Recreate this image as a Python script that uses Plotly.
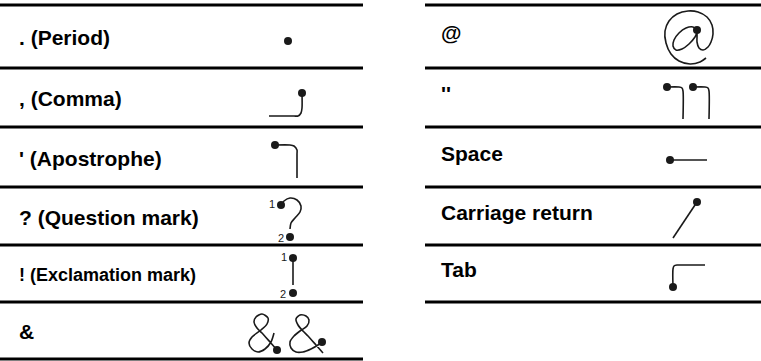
import plotly.graph_objects as go

# ---------------- data ----------------
left_labels = [". (Period)", ", (Comma)", "' (Apostrophe)", "? (Question mark)",
               "! (Exclamation mark)", "&"]
right_labels = ["@", "''", "Space", "Carriage return", "Tab"]

# row boundary positions (pixel space, top->bottom)
left_rules = [5, 68, 127, 187, 245, 302, 359]
right_rules = [5, 68, 127, 187, 245, 302]

# glyph strokes: each stroke is (xs, ys); the first point carries the dot
period_x, period_y = [288], [41]
comma_x = [302, 302, 301, 298, 294, 269]
comma_y = [93, 108, 113, 116, 116, 116]
apos_x = [275, 290, 294, 297, 297, 297]
apos_y = [145, 145, 146, 150, 154, 178]
quest_x = [281, 284, 290, 297, 301, 300, 295, 291, 290]
quest_y = [205, 201, 198, 200, 206, 212, 218, 223, 229]
quest_dot2 = ([290], [237])
excl_x = [293, 293]
excl_y = [258, 285]
excl_dot2 = ([293], [293])
amp1_x = [274, 271, 265, 258, 252, 249, 252, 261, 267, 268, 262, 256, 254, 257, 262, 270, 277]
amp1_y = [333, 342, 349, 352, 349, 343, 337, 330, 324, 318, 314, 317, 322, 328, 333, 342, 350]
amp2_x = [323, 316, 308, 303, 298, 296, 300, 306, 309, 307, 300, 294, 290, 291, 296, 303, 311, 318, 322]
amp2_y = [353, 345, 336, 331, 325, 319, 315, 316, 320, 326, 331, 336, 342, 348, 352, 352, 349, 345, 342]
at_x = [697, 693, 686, 679, 674, 673, 676, 682, 689, 695, 697, 697, 699, 703, 708, 711, 713, 712, 707, 698, 688, 677, 669, 665, 666, 671, 679, 690, 700, 706]
at_y = [30, 27, 28, 33, 40, 46, 50, 49, 44, 37, 33, 42, 48, 50, 47, 42, 34, 25, 17, 12, 11, 14, 21, 31, 43, 54, 61, 64, 62, 58]
quote1_x = [667, 679, 682, 683, 683]
quote1_y = [87, 87, 88, 91, 119]
quote2_x = [693, 705, 708, 709, 709]
quote2_y = [87, 87, 88, 91, 119]
space_x = [670, 707]
space_y = [160, 160]
cr_x = [697, 673]
cr_y = [202, 238]
tab_x = [673, 673, 674, 677, 680, 705]
tab_y = [287, 269, 266, 265, 265, 265]

# ---------------- figure ----------------
fig = go.Figure()
ink = "#1a1a1a"

def stroke(xs, ys, dot=True):
    fig.add_trace(go.Scatter(x=xs, y=ys, mode="lines", line=dict(color=ink, width=1.6, shape="spline", smoothing=0.8),
                             hoverinfo="skip", showlegend=False))
    if dot:
        fig.add_trace(go.Scatter(x=[xs[0]], y=[ys[0]], mode="markers", marker=dict(color=ink, size=8),
                                 hoverinfo="skip", showlegend=False))

def dot(pt):
    fig.add_trace(go.Scatter(x=pt[0], y=pt[1], mode="markers", marker=dict(color=ink, size=8),
                             hoverinfo="skip", showlegend=False))

dot((period_x, period_y))
stroke(comma_x, comma_y)
stroke(apos_x, apos_y)
stroke(quest_x, quest_y)
dot(quest_dot2)
stroke(excl_x, excl_y)
dot(excl_dot2)
stroke(amp1_x, amp1_y, dot=False)
dot(([amp1_x[-1]], [amp1_y[-1]]))
stroke(amp2_x, amp2_y, dot=False)
dot(([amp2_x[-1]], [amp2_y[-1]]))
stroke(at_x, at_y)
stroke(quote1_x, quote1_y)
stroke(quote2_x, quote2_y)
stroke(space_x, space_y)
stroke(cr_x, cr_y)
stroke(tab_x, tab_y)

# small stroke-order numbers
num_font = dict(family="Liberation Sans", size=11, color=ink)
for t, x, y in [("1", 277, 204), ("2", 286, 238), ("1", 289, 257), ("2", 288, 294)]:
    fig.add_annotation(x=x, y=y, text=t, showarrow=False, xanchor="right", yanchor="middle", font=num_font)

# rules
for y in left_rules:
    fig.add_shape(type="line", x0=0, x1=363, y0=y, y1=y, line=dict(color="black", width=3))
for y in right_rules:
    fig.add_shape(type="line", x0=425, x1=761, y0=y, y1=y, line=dict(color="black", width=3))

for i, t in enumerate(left_labels):
    yc = (left_rules[i] + left_rules[i + 1]) / 2 + 1
    size = 18 if t.startswith("!") else 21
    fig.add_annotation(x=17, y=yc, text=t, showarrow=False, xanchor="left", yanchor="middle",
                       font=dict(family="Liberation Sans", size=size, color="black", weight="bold"))
for i, t in enumerate(right_labels):
    yc = (right_rules[i] + right_rules[i + 1]) / 2 - 4
    fig.add_annotation(x=439, y=yc, text=t, showarrow=False, xanchor="left", yanchor="middle",
                       font=dict(family="Liberation Sans", size=21, color="black", weight="bold"))

fig.update_layout(width=761, height=361, margin=dict(l=0, r=0, t=0, b=0),
                  plot_bgcolor="white", paper_bgcolor="white",
                  xaxis=dict(range=[0, 761], visible=False, fixedrange=True),
                  yaxis=dict(range=[361, 0], visible=False, fixedrange=True))
fig.write_html("out.html", config={"displayModeBar": False},
               post_script="document.body.style.margin='0';document.body.style.padding='0';document.body.style.overflow='hidden';")
